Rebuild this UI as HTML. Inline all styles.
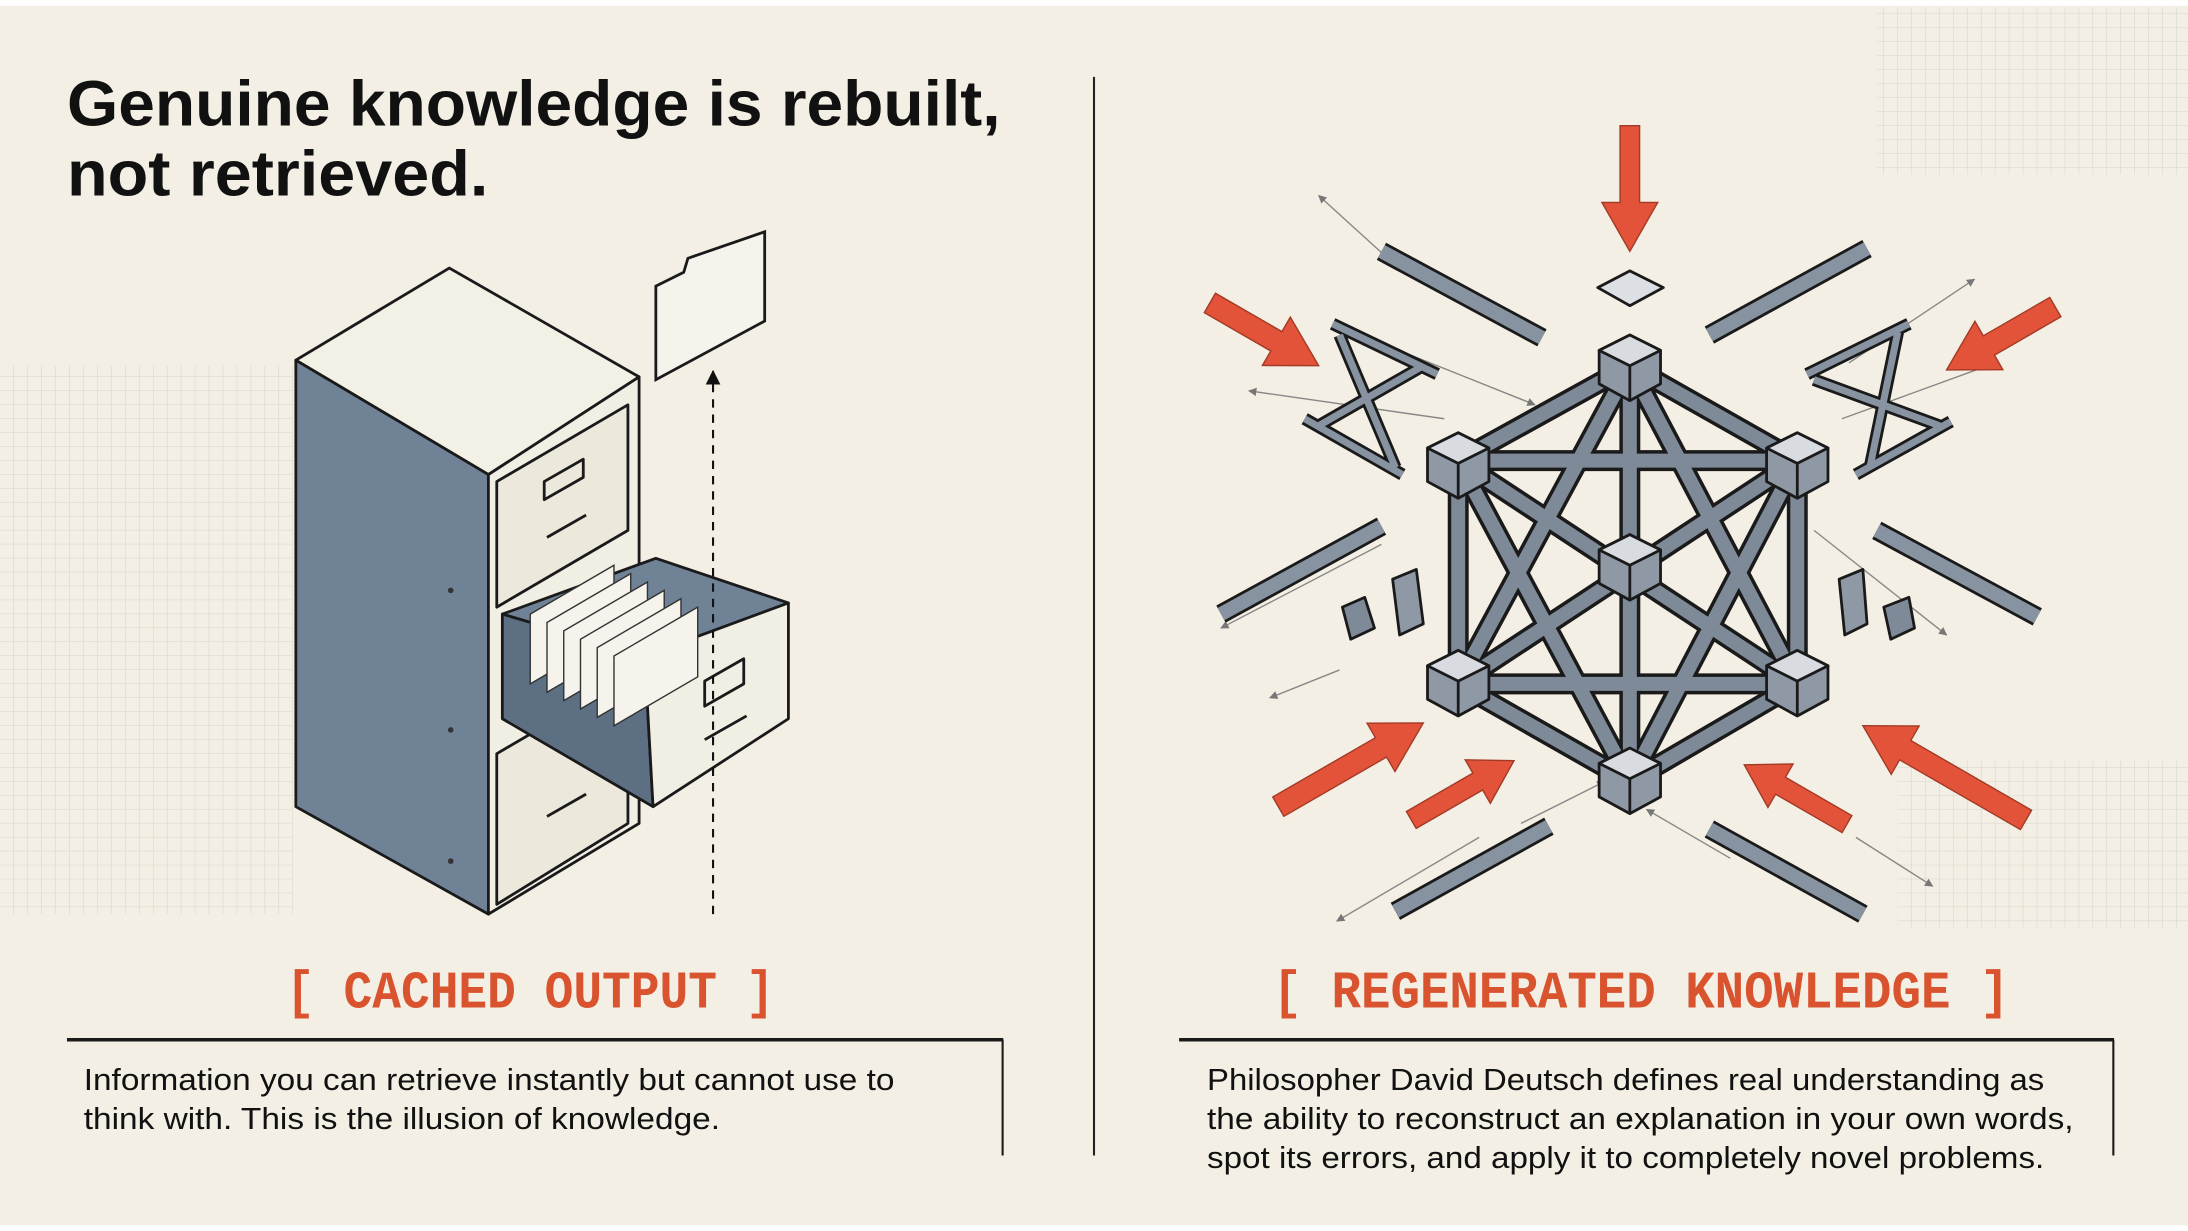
<!DOCTYPE html>
<html><head><meta charset="utf-8"><style>html,body{margin:0;padding:0;background:#f3efe4;}svg{display:block}</style></head>
<body>
<svg width="2188" height="1231" viewBox="0 0 1568 882" xmlns="http://www.w3.org/2000/svg">
<defs>
<pattern id="g" width="10" height="10" patternUnits="userSpaceOnUse"><path d="M10 0V10M0 10H10" stroke="#d9d5cb" stroke-width="0.8" fill="none"/></pattern>
<marker id="ah" viewBox="0 0 10 10" refX="9" refY="5" markerWidth="6" markerHeight="6" orient="auto"><path d="M0 0L10 5L0 10z" fill="#777"/></marker>
<marker id="ak" viewBox="0 0 10 10" refX="9" refY="5" markerWidth="7" markerHeight="7" orient="auto"><path d="M0 0L10 5L0 10z" fill="#111"/></marker>
<g id="cube" stroke="#1a1a1a" stroke-width="2" stroke-linejoin="round"><polygon points="0,-22 22,-11 22,13 0,25 -22,13 -22,-11" fill="#8f99a6"/><polygon points="0,-22 22,-11 0,0 -22,-11" fill="#d8dbe0"/><path d="M0 0 V25" fill="none"/></g>
</defs>
<rect x="0" y="0" width="1568" height="882" fill="#f3efe4"/>
<rect x="0" y="0" width="1568" height="4" fill="#fff"/>
<rect x="0" y="878" width="1568" height="4" fill="#fff"/>
<rect x="0" y="262" width="210" height="393" fill="url(#g)"/>
<rect x="1345" y="5" width="223" height="120" fill="url(#g)"/>
<rect x="1360" y="545" width="208" height="120" fill="url(#g)"/>

<g font-family="Liberation Sans, sans-serif" font-weight="bold" fill="#111">
<text x="48" y="90" font-size="46" textLength="669" lengthAdjust="spacingAndGlyphs">Genuine knowledge is rebuilt,</text>
<text x="48" y="140" font-size="46" textLength="302" lengthAdjust="spacingAndGlyphs">not retrieved.</text>
</g>
<line x1="784" y1="55" x2="784" y2="828" stroke="#222" stroke-width="1.5"/>

<!-- cabinet -->
<g stroke="#1a1a1a" stroke-width="2" stroke-linejoin="round">
<polygon points="212,258 322,192 458,270 350,340" fill="#f3f0e6"/>
<polygon points="212,258 350,340 350,655 212,578" fill="#6f8296"/>
<polygon points="350,340 458,270 458,590 350,655" fill="#f1eee4"/>
<polygon points="356,345 450,290 450,380 356,435" fill="#ece8dc"/>
<polygon points="390,345 418,329 418,342 390,358" fill="none"/>
<path d="M392 385 L420 369" fill="none"/>
<polygon points="356,540 450,485 450,590 356,648" fill="#ece8dc"/>
<path d="M392 585 L420 569" fill="none"/>
<polygon points="360,440 470,400 565,432 462,470" fill="#6f8296"/>
<polygon points="360,440 462,470 468,578 360,515" fill="#5d6f83"/>
<polygon points="462,470 565,432 565,515 468,578" fill="#f1eee4"/>
<polygon points="505,488 533,472 533,490 505,506" fill="none"/>
<path d="M505 530 L535 513" fill="none"/>
</g>
<g stroke="#333" stroke-width="1" fill="#f5f3ec">
<polygon points="380,440 440,405 440,455 380,490"/><polygon points="392,446 452,411 452,461 392,496"/><polygon points="404,452 464,417 464,467 404,502"/><polygon points="416,458 476,423 476,473 416,508"/><polygon points="428,464 488,429 488,479 428,514"/><polygon points="440,470 500,435 500,485 440,520"/>
</g>
<g fill="#333"><circle cx="323" cy="423" r="2"/><circle cx="323" cy="523" r="2"/><circle cx="323" cy="617" r="2"/></g>
<polygon points="470,205 490,195 493,185 548,166 548,230 470,272" fill="#f5f3ec" stroke="#1a1a1a" stroke-width="2"/>
<line x1="511" y1="655" x2="511" y2="266" stroke="#111" stroke-width="1.5" stroke-dasharray="6,5" marker-end="url(#ak)"/>

<g stroke="#888" stroke-width="1" fill="none" marker-end="url(#ah)">
<line x1="1000" y1="190" x2="945" y2="140"/><line x1="1325" y1="260" x2="1415" y2="200"/>
<line x1="1000" y1="250" x2="1100" y2="290"/><line x1="1035" y1="300" x2="895" y2="280"/>
<line x1="1320" y1="300" x2="1430" y2="260"/><line x1="1300" y1="380" x2="1395" y2="455"/>
<line x1="990" y1="390" x2="875" y2="450"/><line x1="960" y1="480" x2="910" y2="500"/>
<line x1="1060" y1="600" x2="958" y2="660"/><line x1="1330" y1="600" x2="1385" y2="635"/>
<line x1="1090" y1="590" x2="1150" y2="560"/><line x1="1240" y1="615" x2="1180" y2="580"/>
</g>
<g stroke-linecap="butt">
<g stroke="#1a1a1a" stroke-width="14"><line x1="990" y1="180" x2="1105" y2="242"/><line x1="1225" y1="240" x2="1338" y2="178"/><line x1="875" y1="440" x2="990" y2="377"/><line x1="1345" y1="380" x2="1460" y2="442"/><line x1="1000" y1="653" x2="1110" y2="592"/><line x1="1225" y1="594" x2="1335" y2="655"/></g>
<g stroke="#8893a1" stroke-width="10"><line x1="990" y1="180" x2="1105" y2="242"/><line x1="1225" y1="240" x2="1338" y2="178"/><line x1="875" y1="440" x2="990" y2="377"/><line x1="1345" y1="380" x2="1460" y2="442"/><line x1="1000" y1="653" x2="1110" y2="592"/><line x1="1225" y1="594" x2="1335" y2="655"/></g>
</g>
<g stroke="#1a1a1a" stroke-width="9" fill="none"><path d="M955 232 L1030 268 M935 300 L1005 340 M960 240 L1000 335 M1020 262 L945 305"/><path d="M1295 268 L1368 232 M1330 340 L1398 302 M1360 238 L1340 335 M1300 272 L1390 305"/></g>
<g stroke="#8893a1" stroke-width="5" fill="none"><path d="M955 232 L1030 268 M935 300 L1005 340 M960 240 L1000 335 M1020 262 L945 305"/><path d="M1295 268 L1368 232 M1330 340 L1398 302 M1360 238 L1340 335 M1300 272 L1390 305"/></g>
<g stroke="#1a1a1a" stroke-width="15" fill="none" stroke-linejoin="round">
<polygon points="1168,262 1288,330 1288,490 1168,560 1045,490 1045,330"/>
<path d="M1045 330 L1288 330 M1045 490 L1288 490 M1168 262 L1168 560 M1168 262 L1045 490 M1168 262 L1288 490 M1045 330 L1168 560 M1288 330 L1168 560 M1045 330 L1288 490 M1288 330 L1045 490"/>
</g>
<g stroke="#7f8a99" stroke-width="10" fill="none" stroke-linejoin="round">
<polygon points="1168,262 1288,330 1288,490 1168,560 1045,490 1045,330"/>
<path d="M1045 330 L1288 330 M1045 490 L1288 490 M1168 262 L1168 560 M1168 262 L1045 490 M1168 262 L1288 490 M1045 330 L1168 560 M1288 330 L1168 560 M1045 330 L1288 490 M1288 330 L1045 490"/>
</g>
<use href="#cube" x="1168" y="262"/><use href="#cube" x="1288" y="332"/><use href="#cube" x="1045" y="332"/><use href="#cube" x="1168" y="405"/><use href="#cube" x="1288" y="488"/><use href="#cube" x="1045" y="488"/><use href="#cube" x="1168" y="558"/>
<g stroke="#1a1a1a" stroke-width="2" stroke-linejoin="round">
<polygon points="1145,206 1168,194 1192,206 1168,219" fill="#dcdfe3"/>
<polygon points="962,435 978,428 985,450 968,458" fill="#7f8a99"/><polygon points="998,415 1015,408 1020,447 1003,455" fill="#8f99a6"/>
<polygon points="1318,415 1335,408 1338,447 1322,455" fill="#8f99a6"/><polygon points="1350,435 1368,428 1372,450 1355,458" fill="#7f8a99"/>
</g>
<g fill="#e2533a" stroke="#a33a25" stroke-width="1">
<polygon points="1161,90 1175,90 1175,145 1188,145 1168,180 1148,145 1161,145"/>
<g transform="translate(945,262) rotate(210)"><polygon points="0,0 35,-20 35,-8 90,-8 90,8 35,8 35,20"/></g>
<g transform="translate(1395,265) rotate(-30)"><polygon points="0,0 35,-20 35,-8 90,-8 90,8 35,8 35,20"/></g>
<g transform="translate(1020,518) rotate(150)"><polygon points="0,0 35,-20 35,-8 120,-8 120,8 35,8 35,20"/></g>
<g transform="translate(1085,545) rotate(150)"><polygon points="0,0 30,-18 30,-7 85,-7 85,7 30,7 30,18"/></g>
<g transform="translate(1335,520) rotate(30)"><polygon points="0,0 35,-20 35,-8 135,-8 135,8 35,8 35,20"/></g>
<g transform="translate(1250,548) rotate(30)"><polygon points="0,0 30,-18 30,-7 85,-7 85,7 30,7 30,18"/></g>
</g>

<g font-family="Liberation Mono, monospace" font-weight="bold" fill="#d9532f" font-size="38">
<text x="205" y="722" textLength="350" lengthAdjust="spacingAndGlyphs">[ CACHED  OUTPUT ]</text>
<text x="912" y="722" textLength="528" lengthAdjust="spacingAndGlyphs">[ REGENERATED  KNOWLEDGE ]</text>
</g>
<g stroke="#1a1a1a" fill="none">
<line x1="48" y1="745" x2="719" y2="745" stroke-width="2.5"/><line x1="718.5" y1="745" x2="718.5" y2="828" stroke-width="1.5"/>
<line x1="845" y1="745" x2="1515" y2="745" stroke-width="2.5"/><line x1="1514.5" y1="745" x2="1514.5" y2="828" stroke-width="1.5"/>
</g>
<g font-family="Liberation Sans, sans-serif" font-size="22" fill="#111">
<text x="60" y="781" textLength="581" lengthAdjust="spacingAndGlyphs">Information you can retrieve instantly but cannot use to</text>
<text x="60" y="809" textLength="456" lengthAdjust="spacingAndGlyphs">think with. This is the illusion of knowledge.</text>
<text x="865" y="781" textLength="600" lengthAdjust="spacingAndGlyphs">Philosopher David Deutsch defines real understanding as</text>
<text x="865" y="809" textLength="621" lengthAdjust="spacingAndGlyphs">the ability to reconstruct an explanation in your own words,</text>
<text x="865" y="837" textLength="600" lengthAdjust="spacingAndGlyphs">spot its errors, and apply it to completely novel problems.</text>
</g>
</svg>
</body></html>
